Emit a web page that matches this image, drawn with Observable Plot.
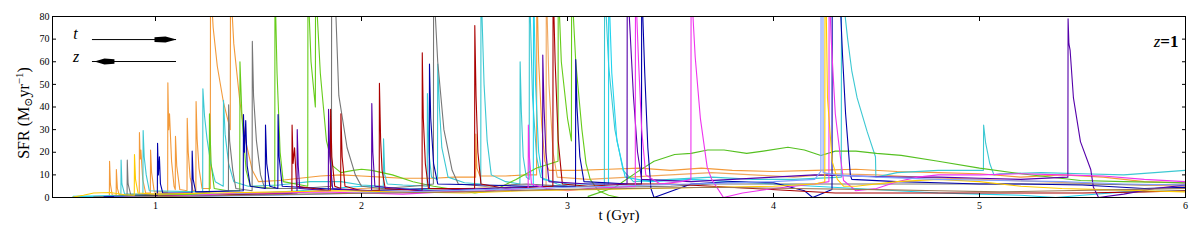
<!DOCTYPE html>
<html>
<head>
<meta charset="utf-8">
<script src="https://cdn.jsdelivr.net/npm/d3@7"></script>
<script src="https://cdn.jsdelivr.net/npm/@observablehq/plot@0.6"></script>
<style>
  html, body { margin: 0; padding: 0; background: #fff; }
  #chart { width: 1200px; height: 241px; }
</style>
</head>
<body>
<div id="chart"></div>
<script>
// ---------- data (t in Gyr, SFR in Msun/yr) ----------
const xTicks = [1, 2, 3, 4, 5, 6];
const yTicks = [0, 10, 20, 30, 40, 50, 60, 70, 80];

const sOrange = [[0.70,0.2],[0.776,0.4],[0.777,16],[0.781,6],[0.79,1],
 [0.809,1],[0.81,12.4],[0.815,4],[0.824,1.2],
 [0.921,1.5],[0.922,28.7],[0.926,17],[0.929,21],[0.938,8],[0.952,2],
 [0.975,2],[0.976,21],[0.981,11],[0.994,2.5],
 [1.059,2.5],[1.06,50.7],[1.064,30],[1.068,37],[1.078,16],[1.09,5],
 [1.096,3.5],[1.097,27],[1.103,14],[1.118,3.5],
 [1.153,3],[1.154,35],[1.159,20],[1.168,9],[1.182,3],
 [1.196,3],[1.197,42.4],[1.202,26],[1.211,13],[1.226,4],
 [1.266,4],[1.267,95],[1.28,75],[1.30,58],[1.33,42],[1.363,30],[1.364,95],[1.38,68],[1.41,42],[1.44,24],[1.47,12],[1.50,7],
 [1.6,7.5],[1.7,8.5],[1.8,9.5],[1.9,10],[2.0,9.5],[2.1,9],[2.2,8.5],[2.35,8.5],[2.45,9],[2.554,9],[2.555,28],[2.56,13],[2.575,9.5],
 [2.7,9.5],[2.8,10],[2.85,10],[2.851,95],[2.86,60],[2.875,32],[2.89,16],[2.91,12],[3.05,12],[3.2,12.5],[3.35,13],[3.5,12],
 [3.65,13],[3.8,12],[4.0,11.5],[4.2,12],[4.4,12.5],[4.6,11.5],[4.8,11],[5.0,10.5],[5.2,9],[5.4,10],[5.6,9],[5.8,7],[6.0,6.5]];

const sOrange2 = [[0.9,0.5],[1.2,1],[1.5,2],[1.8,3],[2.0,4],[2.2,3.5],[2.5,4],[2.896,5],[2.897,95],[2.91,50],[2.93,20],[2.95,9],
 [3.1,8],[3.3,9],[3.5,10],[3.7,11],[3.9,10],[4.1,9],[4.3,10.5],[4.5,10],[4.7,9],[5.0,8],[5.3,7],[5.6,6],[6.0,5]];

const sCyan = [[0.6,0.2],[0.832,0.8],[0.833,16.5],[0.837,6],[0.85,1.5],
 [0.939,1.5],[0.94,29.6],[0.945,18],[0.955,10],[0.97,3],
 [1.229,2.5],[1.23,48],[1.238,36],[1.25,26],[1.27,14],[1.29,7],
 [1.329,5],[1.33,43],[1.338,28],[1.355,15],[1.38,7],[1.45,5],
 [1.6,5.5],[1.75,7],[1.9,7],[2.0,5.5],[2.106,5],[2.107,26],[2.113,10],[2.125,6],
 [2.2,5.5],[2.319,5],[2.32,46],[2.327,20],[2.34,9],[2.369,8],[2.37,59],[2.378,40],[2.39,22],[2.42,9],[2.5,6.5],
 [2.579,6],[2.58,95],[2.595,50],[2.61,25],[2.63,10],[2.7,7],
 [2.769,6],[2.77,60],[2.776,38],[2.785,18],[2.80,9],[2.814,8],[2.815,95],[2.83,45],[2.85,18],[2.87,9],[2.95,6],[3.0,5],
 [3.179,5],[3.18,95],[3.20,58],[3.23,30],[3.27,12],[3.32,7],[3.5,8],[3.7,9],[3.9,8],[4.1,8],
 [4.329,9],[4.33,95],[4.36,70],[4.38,56],[4.406,44],[4.455,29],[4.495,18],[4.497,9],[4.6,11],[4.8,12],[5.0,12],
 [5.019,12],[5.02,32],[5.03,24],[5.05,15],[5.07,10],[5.1,10.5],[5.3,11],[5.5,10.5],[5.7,10],[5.85,11],[6.0,12]];

const sCyan2 = [[0.6,0.5],[0.9,1],[1.2,1.5],[1.5,2],[1.7,3],[1.85,4],[2.0,5],[2.2,4],[2.4,3],[2.6,4],
 [2.834,5],[2.835,95],[2.845,50],[2.86,20],[2.88,8],[3.0,6],[3.199,6],[3.2,95],[3.215,55],[3.24,25],[3.28,9],
 [3.4,7],[3.6,8],[3.8,7],[4.0,6],[4.2,5],[4.4,4],[4.6,3],[4.8,2],[5.0,1.5],[5.2,1],[5.37,0],[5.5,1],[5.7,2.5],[6.0,3]];

const sGreen = [[0.8,0.5],[1.0,1],[1.2,1.5],[1.261,2],[1.262,37],[1.27,15],[1.285,4],[1.35,3],
 [1.409,3],[1.41,60],[1.42,35],[1.44,12],[1.46,5],
 [1.579,4],[1.58,95],[1.59,55],[1.605,20],[1.62,7],[1.739,5],[1.74,95],[1.755,60],[1.776,40],[1.777,95],[1.80,55],[1.83,25],[1.86,14],
 [1.9,11],[1.96,12],[2.0,12.5],[2.05,12],[2.15,10],[2.25,7],[2.35,5],[2.45,3.5],[2.55,2],[2.64,3],[2.75,8],[2.85,13],[2.954,16],
 [2.955,95],[2.97,60],[3.0,35],[3.019,25],[3.02,95],[3.04,60],[3.07,30],[3.09,15],[3.11,8],[3.15,3],[3.2,1],[3.25,0]];

const sGreen2 = [[3.1,0.5],[3.23,4.5],[3.35,12],[3.42,16],[3.52,19],[3.6,19.5],[3.68,21],[3.76,21],[3.87,19.5],[3.95,20.5],
 [4.07,22.2],[4.15,21],[4.23,18.6],[4.3,20.5],[4.4,20.5],[4.5,19.5],[4.62,18.6],[4.8,16],[5.0,13],[5.2,10.5],[5.49,7.5],[5.7,7],[6.0,6.5]];

const sGrey = [[0.7,0.3],[0.862,0.8],[0.863,16.5],[0.867,6],[0.88,1],[1.0,1.5],[1.2,2],
 [1.354,3],[1.355,41],[1.36,25],[1.375,12],[1.39,4],[1.469,3],[1.47,69],[1.476,45],[1.49,25],[1.51,10],[1.53,4],[1.7,4],
 [1.854,5],[1.855,95],[1.87,95],[1.89,45],[1.93,22],[1.97,10],[2.0,5],[2.1,4],[2.25,5],
 [2.349,6],[2.35,95],[2.37,60],[2.40,30],[2.44,12],[2.47,6],[2.6,5],[2.8,6],[3.0,5],[3.2,4.5],[3.5,5],[3.7,6],[3.9,6],
 [4.1,6],[4.3,6],[4.6,6],[4.9,6],[5.2,6],[5.5,6],[5.8,5.5],[6.0,6]];

const sNavy = [[0.75,0.3],[1.0,0.8],[1.009,1],[1.01,24],[1.014,10],[1.019,18],[1.024,6],[1.035,2],
 [1.177,2],[1.178,20.5],[1.183,8],[1.195,2.5],[1.426,3],[1.427,36.7],[1.432,20],[1.438,34],[1.445,14],[1.46,5],
 [1.533,4],[1.534,32],[1.54,15],[1.555,5],[1.594,4],[1.595,36.7],[1.60,18],[1.615,5],[1.8,4],[2.0,3],[2.2,3.5],
 [2.329,4],[2.33,59],[2.336,35],[2.35,15],[2.37,6],[2.6,5.5],[2.8,5],[3.039,5],[3.04,61],[3.046,40],[3.06,18],[3.08,7],
 [3.3,6],[3.359,6],[3.36,95],[3.375,55],[3.39,22],[3.405,4],[3.42,0],[3.6,6],[3.8,7],[4.0,6.5],[4.15,3],[4.19,0],
 [4.284,3.5],[4.285,95],[4.32,95],[4.335,63],[4.35,37],[4.373,10],[4.38,8],[4.6,7],[4.8,6.5],[5.0,6],[5.2,6],[5.5,5.5],[5.8,4],[6.0,4.5]];

const sDarkRed = [[0.85,0.3],[1.1,0.8],[1.3,1],[1.5,1.5],[1.662,2],[1.663,32],[1.668,15],[1.675,22],[1.685,5],
 [1.849,3],[1.85,39],[1.856,18],[1.87,5],[1.899,4],[1.90,37],[1.906,18],[1.92,5],[2.0,3],
 [2.086,3],[2.087,50.5],[2.093,25],[2.1,12],[2.115,4],[2.294,3],[2.295,64],[2.30,35],[2.31,15],[2.325,4],
 [2.549,4],[2.55,76],[2.556,45],[2.565,20],[2.58,6],[2.7,4],[2.929,5],[2.93,95],[2.94,60],[2.955,25],[2.975,6],
 [3.1,5],[3.3,6],[3.5,6],[3.7,5],[3.9,4],[4.1,3],[4.3,2],[4.6,2],[4.9,2],[5.2,2],[5.5,2],[5.8,2.5],[6.0,3]];

const sPurple = [[0.9,0.3],[1.2,0.8],[1.5,1.2],[1.687,2],[1.688,30],[1.693,14],[1.70,4],
 [1.839,3],[1.84,39],[1.846,18],[1.86,4],[2.049,3],[2.05,41.5],[2.055,20],[2.065,5],[2.3,3],[2.6,4],
 [2.879,5],[2.88,63],[2.886,40],[2.895,20],[2.91,7],[3.1,6],[3.289,6],[3.29,95],[3.30,80],[3.32,45],[3.34,20],[3.36,8],
 [3.6,7],[3.8,8],[4.0,9],[4.2,10],[4.4,9.5],[4.6,9],[4.8,9],[5.0,8.5],[5.2,8],
 [5.429,9],[5.43,79],[5.434,68],[5.44,65],[5.456,44],[5.49,24.7],[5.54,12.4],[5.553,4.5],[5.578,0],[5.7,1.5],[5.85,4],[6.0,5.5]];

const sMagenta = [[1.0,0.3],[1.2,1],[1.4,2],[1.6,2],[1.8,2.5],[2.0,2],[2.2,1.5],[2.4,2.5],[2.6,3],
 [2.809,4],[2.81,32],[2.815,18],[2.825,6],[2.9,4],[3.0,3],[3.1,4],[3.329,5],[3.33,95],[3.345,60],[3.36,30],[3.38,10],
 [3.45,6],[3.55,7],[3.599,8],[3.6,95],[3.62,62],[3.645,35],[3.678,13.4],[3.70,8],[3.757,0],[3.85,2],[4.0,4],[4.1,5],[4.2,6],
 [4.269,7],[4.27,95],[4.28,70],[4.30,37],[4.325,17.7],[4.34,7.5],[4.4,3],[4.5,4],[4.6,7],[4.7,9],[4.8,10],[5.0,10],
 [5.2,10.5],[5.4,10],[5.6,9.5],[5.8,8],[6.0,7]];

const sYellow = [[0.6,0.2],[0.65,1],[0.7,2],[0.78,2.2],[0.85,1.2],[0.897,1],[0.898,19],[0.903,8],[0.915,2],
 [1.0,1.5],[1.3,2],[1.6,2.5],[1.9,3],[2.2,2.5],[2.5,2],[2.8,3],[3.1,3.5],[3.4,4],[3.7,4.5],[4.0,5],[4.2,6],
 [4.249,7],[4.25,95],[4.255,90],[4.262,44],[4.285,16],[4.31,8],[4.34,5],[4.4,5],[4.6,7],[4.8,8],[5.0,7],[5.2,5],
 [5.4,4],[5.6,3.5],[5.8,3],[6.0,2.5]];

const sSteel = [[0.8,0.2],[1.2,0.5],[1.6,1],[2.0,2],[2.4,3],[2.8,4],[3.2,5],[3.6,6],[4.0,7],[4.2,8],
 [4.23,11.6],[4.231,95],[4.24,95],[4.241,11],[4.3,10],[4.5,9],[4.8,8],[5.1,7.5],[5.4,7],[5.7,6],[6.0,5.5]];

const sBrown = [[0.9,0.2],[1.3,0.8],[1.7,1.5],[2.1,2],[2.5,2.5],[2.9,3.5],[3.3,4],[3.7,4.5],[4.1,4],[4.5,3.5],
 [4.8,3],[5.1,2.5],[5.4,3],[5.7,3.5],[6.0,4]];

const seriesNames  = ["orange","orange2","cyan","cyan2","green","green2","grey","navy","darkred","purple","magenta","yellow","steel","brown"];
const seriesData   = [sOrange, sOrange2, sCyan, sCyan2, sGreen, sGreen2, sGrey, sNavy, sDarkRed, sPurple, sMagenta, sYellow, sSteel, sBrown];
const seriesColors = ["#f39a3a","#f0a860","#3cc8d2","#22d4ee","#66cc1a","#55c020","#777777","#0000aa","#aa0000","#5500aa","#ee33ee","#ffcc00","#7f9fff","#997755"];

// annotation arrows (t forward, z backward)
const arrowRows = [
  {label: "t", x1: 0.694, x2: 1.102, y: 69.8, head: 1.0485, textX: 0.612, textY: 72.2},
  {label: "z", x1: 0.694, x2: 1.102, y: 60.1, head: 0.752,  textX: 0.615, textY: 62.3}
];
const redshiftLabel = ["z=1"];
const xLabel = ["t (Gyr)"];
const yLabel = ["SFR (M☉yr⁻¹)"];

// ---------- build ----------
const rows = seriesData.flatMap((pts, i) => pts.map(([t, v]) => ({series: seriesNames[i], t, v})));

const headRight = {draw(ctx) { ctx.moveTo(11, 0); ctx.lineTo(0, -3); ctx.lineTo(-11, -2.3); ctx.lineTo(-11, 2.3); ctx.lineTo(0, 3); ctx.closePath(); }};
const headLeft  = {draw(ctx) { ctx.moveTo(-10, 0); ctx.lineTo(0, -3); ctx.lineTo(10, -2.3); ctx.lineTo(10, 2.3); ctx.lineTo(0, 3); ctx.closePath(); }};

const serif = "Liberation Serif, DejaVu Serif, serif";

const chart = Plot.plot({
  width: 1200,
  height: 241,
  marginLeft: 52,
  marginRight: 15,
  marginTop: 16,
  marginBottom: 44,
  style: {fontFamily: serif, fontSize: "10px", background: "white", color: "black", overflow: "visible"},
  x: {domain: [0.5, 6]},
  y: {domain: [0, 80]},
  color: {domain: seriesNames, range: seriesColors},
  marks: [
    Plot.line(rows, {x: "t", y: "v", z: "series", stroke: "series", strokeWidth: 1.1, clip: true, curve: "linear"}),
    Plot.frame({stroke: "black", strokeWidth: 1}),
    // inward ticks on all four sides
    Plot.axisX({anchor: "bottom", ticks: xTicks, tickSize: -4, tickFormat: () => "", label: null}),
    Plot.axisX({anchor: "top", ticks: xTicks, tickSize: -4, tickFormat: () => "", label: null}),
    Plot.axisY({anchor: "left", ticks: yTicks, tickSize: -4, tickFormat: () => "", label: null}),
    Plot.axisY({anchor: "right", ticks: yTicks, tickSize: -4, tickFormat: () => "", label: null}),
    // tick labels
    Plot.axisX({anchor: "bottom", ticks: xTicks, tickSize: 0, tickPadding: 4, tickFormat: d3.format("d"), label: null, fontSize: 10}),
    Plot.axisY({anchor: "left", ticks: yTicks, tickSize: 0, tickPadding: 3, tickFormat: d3.format("d"), label: null, fontSize: 10}),
    // axis titles
    Plot.text(xLabel, {frameAnchor: "bottom", dy: 22, fontSize: 15, fill: "black"}),
    Plot.text(yLabel, {frameAnchor: "left", textAnchor: "middle", dx: -29, dy: 6, rotate: -90, fontSize: 16, fill: "black"}),
    // redshift label
    Plot.text(redshiftLabel, {frameAnchor: "top-right", dx: -7, dy: 18, textAnchor: "end", fontSize: 17, fontWeight: "bold", fill: "black"}),
    // t / z arrows
    Plot.ruleY(arrowRows, {y: "y", x1: "x1", x2: "x2", stroke: "black", strokeWidth: 1}),
    Plot.dot([arrowRows[0]], {x: "head", y: "y", symbol: headRight, fill: "black", stroke: "none"}),
    Plot.dot([arrowRows[1]], {x: "head", y: "y", symbol: headLeft, fill: "black", stroke: "none"}),
    Plot.text(arrowRows, {x: "textX", y: "textY", text: "label", fontSize: 16, fontStyle: "italic", fill: "black"})
  ]
});

// typographic touches: subscript sun / superscript -1, italic z in "z=1"
d3.select(chart).selectAll("text").each(function () {
  const el = this;
  if (el.textContent === yLabel[0]) {
    el.innerHTML = 'SFR (M<tspan dy="3" font-size="11">⊙</tspan><tspan dy="-3">yr</tspan><tspan dy="-6" font-size="11">−1</tspan><tspan dy="6">)</tspan>';
  } else if (el.textContent === redshiftLabel[0]) {
    el.innerHTML = '<tspan font-style="italic" font-weight="normal">z</tspan>=1';
  }
});

document.getElementById("chart").appendChild(chart);
</script>
</body>
</html>
